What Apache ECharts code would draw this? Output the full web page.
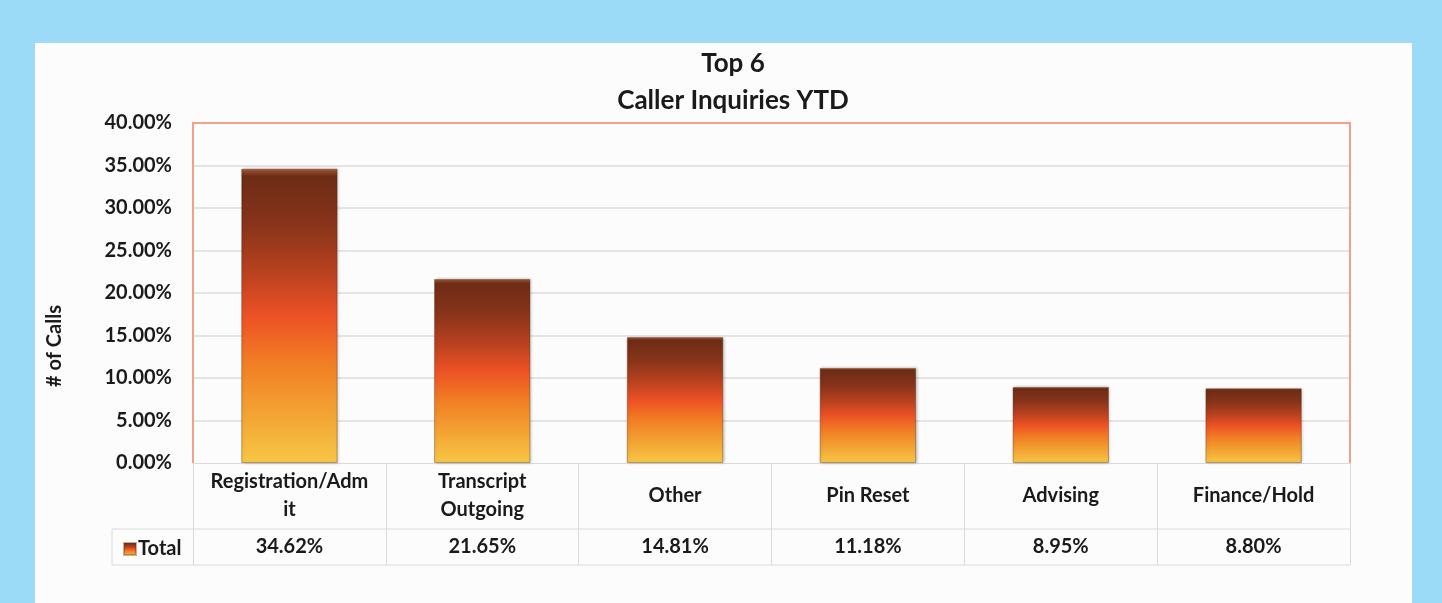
<!DOCTYPE html>
<html><head><meta charset="utf-8">
<script src="https://cdn.jsdelivr.net/npm/echarts@6/dist/echarts.min.js"></script>
<style>html,body{margin:0;padding:0;background:#9cdbf7;}#c{width:1442px;height:603px;}</style>
</head><body><div id="c"></div>
<script>
// ---- data ----
const categories = ['Registration/Admit', 'Transcript Outgoing', 'Other', 'Pin Reset', 'Advising', 'Finance/Hold'];
const categoryLabels = ['Registration/Adm\nit', 'Transcript\nOutgoing', 'Other', 'Pin Reset', 'Advising', 'Finance/Hold'];
const totalValues = [0.3462, 0.2165, 0.1481, 0.1118, 0.0895, 0.0880];
const seriesName = 'Total';
const titleLines = ['Top 6', 'Caller Inquiries YTD'];
const yAxisTitle = '# of Calls';

// ---- layout ----
const FONT = 'Lato';
const FS = 20;
const G = {left: 193, top: 123, right: 1350, bottom: 463};
const ROW1 = 529, ROW2 = 565, TBL_LEFT = 112;
const lineCol = '#dadada';
const txt = '#1a1a1a';

const chart = echarts.init(document.getElementById('c'));
const pct = v => (v * 100).toFixed(2) + '%';

const barGradient = new echarts.graphic.LinearGradient(0, 0, 0, 1, [
  {offset: 0, color: '#a55a3a'},
  {offset: 0.025, color: '#6e2c15'},
  {offset: 0.18, color: '#86331a'},
  {offset: 0.35, color: '#b8411f'},
  {offset: 0.5, color: '#ed5125'},
  {offset: 0.66, color: '#f17e24'},
  {offset: 0.84, color: '#f3a534'},
  {offset: 1, color: '#f7c745'}
]);

chart.setOption({
  backgroundColor: '#9cdbf7',
  animation: false,
  title: {
    text: titleLines.join('\n'),
    left: 728, top: 40, textAlign: 'center',
    textStyle: {fontFamily: FONT, fontWeight: 'bold', fontSize: 26, lineHeight: 37, color: txt}
  },
  legend: {
    data: [seriesName], left: TBL_LEFT + 6, top: ROW1 + 5,
    icon: 'rect', itemWidth: 12, itemHeight: 12, itemGap: 4,
    textStyle: {fontFamily: FONT, fontWeight: 'bold', fontSize: FS, color: txt, padding: [0,0,0,-3]}
  },
  grid: {left: G.left, top: G.top, right: 1442 - G.right, bottom: 603 - G.bottom,
    show: true, borderWidth: 0, backgroundColor: '#fcfcfc'},
  xAxis: [{
    type: 'category', data: categories, position: 'bottom',
    axisLine: {show: true, lineStyle: {color: lineCol, width: 1}},
    axisTick: {show: true, length: ROW2 - G.bottom, lineStyle: {color: lineCol}},
    axisLabel: {
      margin: 5, interval: 0,
      formatter: (v, i) => {
        const t = categoryLabels[i];
        return t.indexOf('\n') >= 0 ? t.split('\n').map(s => '{d|' + s + '}').join('\n') : '{s|' + t + '}';
      },
      rich: {
        d: {fontFamily: FONT, fontWeight: 'bold', fontSize: FS, lineHeight: 28, color: txt, align: 'center'},
        s: {fontFamily: FONT, fontWeight: 'bold', fontSize: FS, lineHeight: 56, color: txt, align: 'center'}
      }
    }
  }, {
    type: 'category', data: categories, position: 'bottom', offset: ROW1 - G.bottom,
    axisLine: {show: false}, axisTick: {show: false},
    axisLabel: {
      margin: 8, interval: 0,
      formatter: (v, i) => pct(totalValues[i]),
      fontFamily: FONT, fontWeight: 'bold', fontSize: FS, color: txt
    }
  }],
  yAxis: {
    type: 'value', min: 0, max: 0.4, interval: 0.05,
    name: yAxisTitle, nameLocation: 'middle', nameGap: 128, nameRotate: 90,
    nameTextStyle: {fontFamily: FONT, fontWeight: 'bold', fontSize: FS, color: txt, padding: [0, 106, 0, 0]},
    axisLine: {show: false}, axisTick: {show: false},
    axisLabel: {margin: 21, formatter: v => pct(v), fontFamily: FONT, fontWeight: 'bold', fontSize: FS, color: txt},
    splitLine: {showMinLine: false, showMaxLine: false, lineStyle: {color: '#e4e4e4', width: 2}}
  },
  series: [{
    name: seriesName, type: 'bar', data: totalValues, barWidth: '50%', xAxisIndex: 0,
    itemStyle: {color: barGradient, borderColor: 'rgba(90,40,15,0.35)', borderWidth: 1,
      shadowColor: 'rgba(0,0,0,0.25)', shadowBlur: 3, shadowOffsetX: 1, shadowOffsetY: 0}
  }],
  graphic: [
    {type: 'rect', z: -10, shape: {x: 35, y: 43, width: 1412 - 35, height: 603 - 43}, style: {fill: '#fcfcfc'}},
    {type: 'polyline', z: 5, shape: {points: [[G.left, G.bottom], [G.left, G.top], [G.right, G.top], [G.right, G.bottom]]},
      style: {stroke: '#f2a08a', lineWidth: 2, fill: null}},
    {type: 'line', shape: {x1: TBL_LEFT, y1: ROW1, x2: G.right, y2: ROW1}, style: {stroke: lineCol, lineWidth: 1}},
    {type: 'line', shape: {x1: TBL_LEFT, y1: ROW2, x2: G.right, y2: ROW2}, style: {stroke: lineCol, lineWidth: 1}},
    {type: 'line', shape: {x1: TBL_LEFT, y1: ROW1, x2: TBL_LEFT, y2: ROW2}, style: {stroke: lineCol, lineWidth: 1}}
  ]
});
</script></body></html>
